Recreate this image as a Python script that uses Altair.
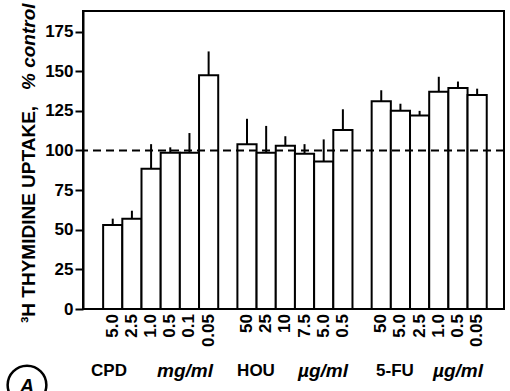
import altair as alt
import pandas as pd

# ---- data ----
groups = ["CPD", "CPD", "CPD", "CPD", "CPD", "CPD",
          "HOU", "HOU", "HOU", "HOU", "HOU", "HOU",
          "5-FU", "5-FU", "5-FU", "5-FU", "5-FU", "5-FU"]
dose_labels = ["5.0", "2.5", "1.0", "0.5", "0.1", "0.05",
               "50", "25", "10", "7.5", "5.0", "0.5",
               "50", "5.0", "2.5", "1.0", "0.5", "0.05"]
uptake = [53, 57, 88.5, 98.5, 98.5, 147.5,
          104, 98.5, 103, 98, 93, 113,
          131, 125, 122, 137, 139.5, 135]
err_top = [57, 62, 104, 102, 111, 162.5,
           120, 115.5, 109, 104, 107, 126,
           138, 129.5, 125, 146.5, 143.5, 139]
group_titles = ["CPD", "HOU", "5-FU"]
group_units = ["mg/ml", "µg/ml", "µg/ml"]
y_ticks = [0, 25, 50, 75, 100, 125, 150, 175]
control_level = 100

# bar slots: one empty slot between groups
starts = []
for gi, g in enumerate(group_titles):
    n = groups.count(g)
    for i in range(n):
        starts.append(1 + gi * 7 + i)

df = pd.DataFrame({
    "group": groups,
    "dose": dose_labels,
    "uptake": uptake,
    "err": err_top,
    "x0": starts,
})
df["x1"] = df["x0"] + 1
df["xc"] = df["x0"] + 0.5

W, H = 421, 298
xs = alt.Scale(domain=[-0.05, 21.9], nice=False, zero=False)
ys = alt.Scale(domain=[0, 188], nice=False)

FONT = "Liberation Sans"

bars = alt.Chart(df).mark_rect(fill="white", stroke="black", strokeWidth=2).encode(
    x=alt.X("x0:Q", scale=xs, axis=None),
    x2="x1:Q",
    y=alt.Y("uptake:Q", scale=ys,
            axis=alt.Axis(values=y_ticks, title=None, grid=False, tickSize=8,
                          tickWidth=2, tickColor="black", domainColor="black",
                          domainWidth=2, labelFontSize=17, labelFontWeight="bold",
                          labelFont=FONT, labelColor="black", labelPadding=2)),
    y2=alt.Y2(datum=0),
)

errs = alt.Chart(df).mark_rule(color="black", strokeWidth=2).encode(
    x=alt.X("xc:Q", scale=xs),
    y=alt.Y("uptake:Q", scale=ys),
    y2="err:Q",
)

ref = alt.Chart(pd.DataFrame({"v": [control_level]})).mark_rule(
    color="black", strokeWidth=2, strokeDash=[8, 5]
).encode(y=alt.Y("v:Q", scale=ys))

xlabels = alt.Chart(df).mark_text(
    angle=270, align="right", baseline="middle", fontSize=17,
    fontWeight="bold", font=FONT, color="black"
).encode(
    x=alt.X("xc:Q", scale=xs),
    y=alt.value(H + 5),
    text="dose:N",
)

gdf = pd.DataFrame({
    "name": group_titles,
    "unit": group_units,
    "px_name": [26, 173, 312],
    "px_unit": [102, 240, 375],
})
gnames = alt.Chart(gdf).mark_text(fontSize=17, fontWeight="bold", font=FONT,
                                   color="black", baseline="middle").encode(
    x=alt.X("px_name:Q", scale=None), y=alt.value(H + 62), text="name:N")
gunits = alt.Chart(gdf).mark_text(fontSize=19, fontWeight="bold", fontStyle="italic",
                                   font=FONT, color="black", baseline="middle").encode(
    x=alt.X("px_unit:Q", scale=None), y=alt.value(H + 62), text="unit:N")

tdf = pd.DataFrame({"a": ["³H THYMIDINE UPTAKE,"], "b": ["% control"]})
title_main = alt.Chart(tdf).mark_text(
    angle=270, align="left", baseline="alphabetic", fontSize=19, fontWeight="bold",
    font=FONT, color="black").encode(x=alt.value(-48), y=alt.value(312), text="a:N")
title_it = alt.Chart(tdf).mark_text(
    angle=270, align="left", baseline="alphabetic", fontSize=19, fontWeight="bold",
    fontStyle="italic", font=FONT, color="black").encode(
    x=alt.value(-48), y=alt.value(79), text="b:N")

circ = alt.Chart(pd.DataFrame({"t": ["A"]})).mark_point(
    shape="circle", size=1500, filled=False, color="black", strokeWidth=2.5, opacity=1
).encode(x=alt.value(-56), y=alt.value(374))
circ_t = alt.Chart(pd.DataFrame({"t": ["A"]})).mark_text(
    fontSize=20, fontWeight="bold", fontStyle="italic", font=FONT, color="black",
    baseline="middle").encode(x=alt.value(-56), y=alt.value(376), text="t:N")

chart = alt.layer(bars, errs, ref, xlabels, gnames, gunits, title_main, title_it,
                  circ, circ_t).properties(
    width=W, height=H,
    autosize=alt.AutoSizeParams(type="none"),
    padding={"left": 83, "top": 11, "right": 6, "bottom": 82},
    background="white",
).configure_view(stroke="black", strokeWidth=2)

chart.save("out.html", embed_options={"renderer": "svg", "actions": False})
